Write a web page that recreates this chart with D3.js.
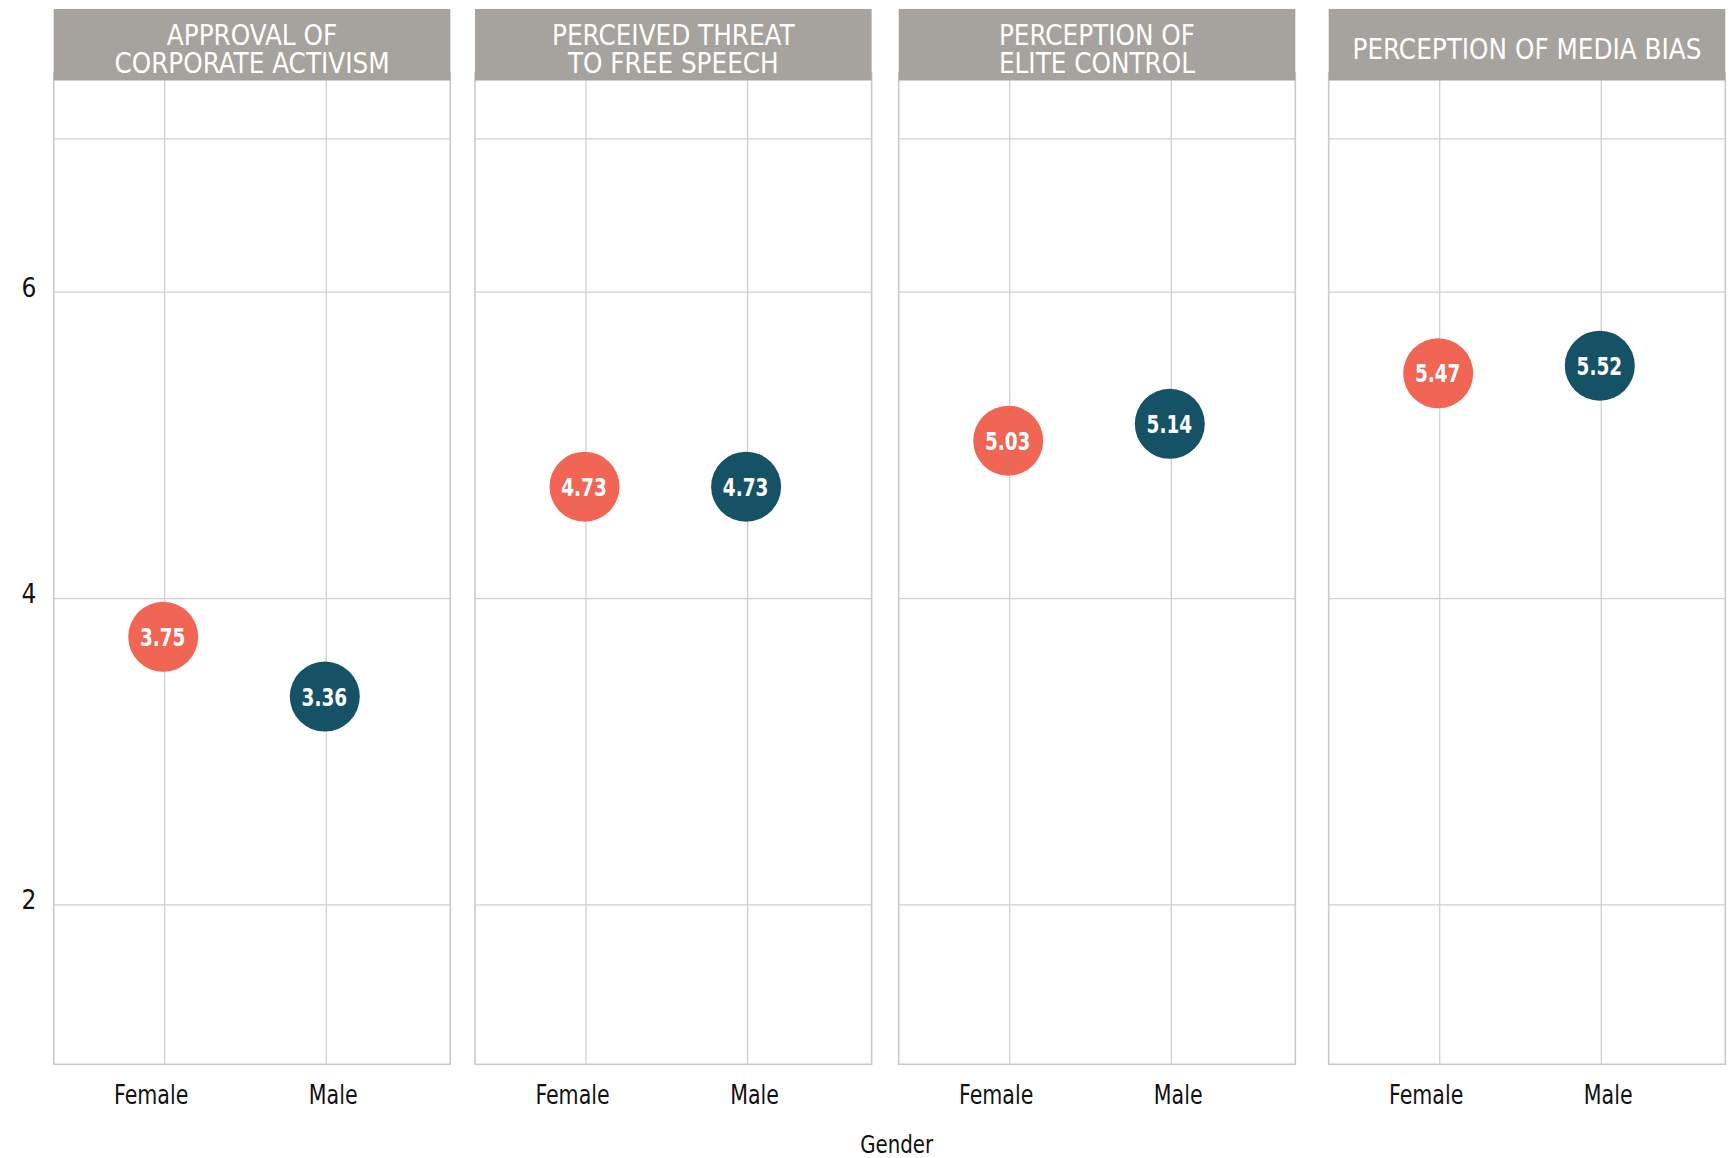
<!DOCTYPE html>
<html><head><meta charset="utf-8">
<script src="https://cdn.jsdelivr.net/npm/d3@7"></script>
<style>
html,body{margin:0;padding:0;background:#fff;}
svg{display:block;}
text{font-family:"Liberation Sans Narrow","DejaVu Sans Condensed","Roboto",sans-serif;}
</style></head>
<body>
<svg id="chart" width="1733" height="1158"></svg>
<script>
const panelTitles = [["APPROVAL OF","CORPORATE ACTIVISM"],["PERCEIVED THREAT","TO FREE SPEECH"],["PERCEPTION OF","ELITE CONTROL"],["PERCEPTION OF MEDIA BIAS"]];
const genders = ["Female","Male"];
const femaleValues = [3.75, 4.73, 5.03, 5.47];
const maleValues = [3.36, 4.73, 5.14, 5.52];
const yTickValues = [2, 4, 6];
const yGridValues = [2, 4, 6, 7];
const xTitle = "Gender";

const colors = {Female:"#f06553", Male:"#155265"};
const panelLeft = [53.7, 475, 898.7, 1328.7];
const panelW = 396.6;
const panelTop = 73, panelBottom = 1064.3;
const stripTop = 9, stripBottom = 80.5;

const svg = d3.select("#chart");
const y = d3.scaleLinear().domain([0.96, 7.43]).range([panelBottom, panelTop]);
const xGrid = d3.scalePoint().domain(genders).range([111, 272.6]);
const xLab = d3.scalePoint().domain(genders).range([97.5, 279.5]);

svg.append("g").selectAll("text").data(yTickValues).join("text")
  .attr("x", 36.5).attr("y", d => y(d) + 4.5)
  .attr("text-anchor","end").attr("font-size", 26).attr("fill","#111")
  .text(d => d);

panelTitles.forEach((title, i) => {
  const g = svg.append("g").attr("transform", `translate(${panelLeft[i]},0)`);
  g.selectAll("line.h").data(yGridValues).join("line")
    .attr("x1",0).attr("x2",panelW).attr("y1",d=>y(d)).attr("y2",d=>y(d))
    .attr("stroke","#d3d0cc").attr("stroke-width",1.3);
  g.selectAll("line.v").data(genders).join("line")
    .attr("x1",d=>xGrid(d)).attr("x2",d=>xGrid(d)).attr("y1",panelTop).attr("y2",panelBottom)
    .attr("stroke","#d3d0cc").attr("stroke-width",1.3);
  g.append("rect").attr("x",0).attr("y",panelTop).attr("width",panelW).attr("height",panelBottom-panelTop)
    .attr("fill","none").attr("stroke","#cdcac6").attr("stroke-width",1.6);
  g.append("rect").attr("x",0).attr("y",stripTop).attr("width",panelW).attr("height",stripBottom-stripTop)
    .attr("fill","#a6a29d");
  const baselines = title.length === 2 ? [45, 72.7] : [59.3];
  const st = g.append("text").attr("text-anchor","middle").attr("font-size",27.5).attr("fill","#fff");
  st.selectAll("tspan").data(title).join("tspan")
    .attr("x", panelW/2).attr("y",(d,j)=>baselines[j])
    .text(d=>d);
  const vals = [{g:"Female", v:femaleValues[i]}, {g:"Male", v:maleValues[i]}];
  g.selectAll("circle").data(vals).join("circle")
    .attr("cx",d=>xGrid(d.g)-1.5).attr("cy",d=>y(d.v)).attr("r",35)
    .attr("fill",d=>colors[d.g]);
  g.selectAll("text.val").data(vals).join("text")
    .attr("transform",d=>`translate(${xGrid(d.g)-2},${y(d.v)+9}) scale(0.82,1)`)
    .attr("text-anchor","middle").attr("font-size",25).attr("font-weight","bold").attr("fill","#fff")
    .text(d=>d.v.toFixed(2));
  g.selectAll("text.xl").data(genders).join("text")
    .attr("transform",d=>`translate(${xLab(d)},1104.3) scale(0.88,1)`)
    .attr("text-anchor","middle").attr("font-size",26).attr("fill","#111")
    .text(d=>d);
});

svg.append("text").attr("transform","translate(896.7,1153) scale(0.88,1)").attr("text-anchor","middle")
  .attr("font-size",25).attr("fill","#111").text(xTitle);
</script>
</body></html>
